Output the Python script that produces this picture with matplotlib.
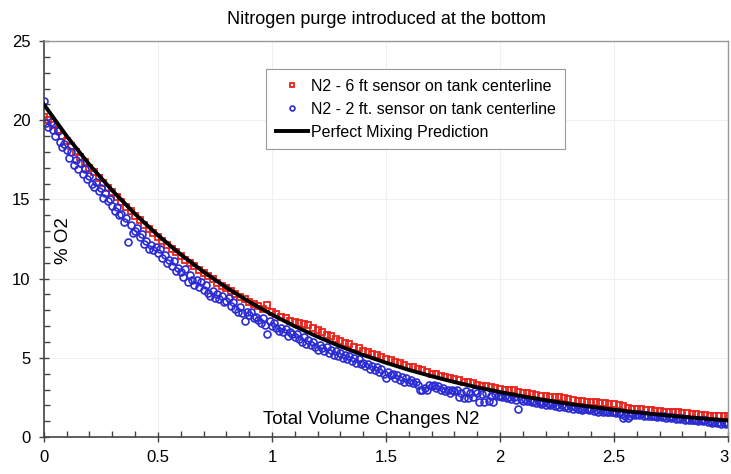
import numpy as np
import matplotlib
matplotlib.use("Agg")
import matplotlib.pyplot as plt
from matplotlib.ticker import MultipleLocator

plt.rcParams['font.family'] = ['Liberation Sans', 'DejaVu Sans']

# logger sample grids (volume changes)
x_6ft = np.round(np.arange(0, 3.0001, 0.02), 2)
x_2ft = np.round(np.arange(0, 3.0001, 0.01), 2)

x_ticks = [0, 0.5, 1, 1.5, 2, 2.5, 3]
x_tick_labels = ['0', '0.5', '1', '1.5', '2', '2.5', '3']

# N2 - 6 ft sensor, % O2
o2_6ft = [
    20.2, 20.0, 19.7, 19.4, 19.0, 18.7, 18.35, 18.0, 17.7, 17.35,
    17.0, 16.7, 16.35, 16.05, 15.75, 15.45, 15.15, 14.85, 14.55, 14.25,
    13.95, 13.7, 13.4, 13.15, 12.9, 12.65, 12.4, 12.15, 11.9, 11.65,
    11.45, 11.2, 11.0, 10.8, 10.55, 10.35, 10.15, 9.95, 9.75, 9.55,
    9.4, 9.2, 9.05, 8.85, 8.7, 8.55, 8.4, 8.25, 8.1, 8.35,
    7.9, 7.75, 7.6, 7.5, 7.35, 7.25, 7.2, 7.15, 7.05, 6.9,
    6.75, 6.6, 6.45, 6.35, 6.2, 6.05, 5.95, 5.85, 5.7, 5.6,
    5.45, 5.35, 5.25, 5.15, 5.05, 4.95, 4.85, 4.75, 4.65, 4.55,
    4.45, 4.4, 4.3, 4.2, 4.1, 4.0, 3.95, 3.85, 3.8, 3.75,
    3.65, 3.6, 3.5, 3.45, 3.4, 3.3, 3.25, 3.2, 3.15, 3.1,
    3.05, 3.0, 2.95, 2.95, 2.85, 2.8, 2.75, 2.7, 2.65, 2.6,
    2.6, 2.55, 2.5, 2.5, 2.45, 2.4, 2.35, 2.3, 2.25, 2.2,
    2.2, 2.2, 2.15, 2.15, 2.1, 2.1, 2.05, 1.95, 1.85, 1.8,
    1.75, 1.75, 1.7, 1.7, 1.65, 1.65, 1.6, 1.6, 1.55, 1.55,
    1.5, 1.5, 1.45, 1.45, 1.4, 1.4, 1.35, 1.35, 1.3, 1.3,
    1.3,
]

# N2 - 2 ft sensor (one row per 0.1 volume change)
o2_2ft = [
    21.2, 19.8, 19.6, 19.9, 19.4, 19.0, 19.3, 18.6, 18.3, 18.5,
    18.1, 17.6, 18.0, 17.2, 17.5, 16.9, 17.3, 16.6, 16.9, 16.3,
    16.5, 16.0, 15.8, 16.1, 15.5, 15.7, 15.1, 15.4, 14.9, 15.0,
    14.6, 14.3, 14.5, 14.0, 14.1, 13.6, 13.8, 12.3, 13.4, 12.9,
    13.0, 13.2, 12.6, 12.8, 12.2, 12.4, 11.9, 12.1, 11.8, 12.0,
    11.6, 11.9, 11.3, 11.5, 11.0, 11.2, 10.8, 11.1, 10.5, 10.7,
    10.4, 10.1, 10.6, 9.8, 10.2, 9.9, 9.6, 9.9, 9.5, 9.8,
    9.3, 9.6, 9.1, 8.9, 9.2, 8.8, 9.0, 8.7, 8.9, 8.5,
    8.6, 8.8, 8.3, 8.5, 8.1, 7.9, 8.2, 7.8, 7.3, 7.9,
    7.7, 7.9, 7.5, 7.6, 7.4, 7.2, 7.5, 7.1, 6.5, 7.3,
    7.0, 7.2, 6.9, 6.7, 6.9, 6.6, 6.8, 6.4, 6.6, 6.5,
    6.3, 6.5, 6.2, 6.0, 6.3, 5.9, 6.1, 5.8, 6.0, 5.7,
    5.5, 5.8, 5.6, 5.4, 5.7, 5.3, 5.5, 5.2, 5.4, 5.1,
    5.3, 5.0, 5.2, 4.9, 5.1, 4.8, 5.0, 4.7, 4.9, 4.6,
    4.7, 4.5, 4.6, 4.3, 4.5, 4.2, 4.4, 4.1, 4.3, 4.0,
    3.7, 4.1, 3.9, 4.0, 3.7, 3.9, 3.6, 3.8, 3.5, 3.7,
    3.5, 3.6, 3.4, 3.5, 3.3, 3.0, 3.0, 3.1, 3.0, 3.3,
    3.2, 3.3, 3.1, 3.2, 3.0, 3.1, 2.9, 3.0, 2.8, 3.0,
    2.9, 3.0, 2.5, 2.8, 2.45, 2.9, 2.45, 2.8, 2.5, 2.9,
    2.8, 2.2, 2.7, 2.2, 2.8, 2.25, 2.6, 2.2, 2.7, 2.6,
    2.6, 2.5, 2.6, 2.45, 2.5, 2.4, 2.5, 2.35, 1.8, 2.4,
    2.3, 2.4, 2.25, 2.3, 2.2, 2.25, 2.15, 2.2, 2.1, 2.15,
    2.05, 2.15, 2.0, 2.1, 1.95, 2.0, 1.9, 2.0, 1.9, 1.95,
    1.85, 1.95, 1.8, 1.9, 1.75, 1.85, 1.7, 1.8, 1.75, 1.7,
    1.75, 1.65, 1.7, 1.6, 1.7, 1.6, 1.65, 1.55, 1.6, 1.55,
    1.6, 1.5, 1.55, 1.45, 1.2, 1.35, 1.2, 1.35, 1.45, 1.4,
    1.45, 1.4, 1.45, 1.35, 1.4, 1.3, 1.35, 1.3, 1.35, 1.25,
    1.3, 1.25, 1.3, 1.2, 1.25, 1.2, 1.25, 1.15, 1.2, 1.15,
    1.2, 1.1, 1.15, 1.05, 1.1, 1.05, 1.1, 1.0, 1.05, 1.0,
    1.05, 0.95, 1.0, 0.9, 0.95, 0.9, 0.95, 0.85, 0.9, 0.85,
    0.9,
]

# perfect mixing prediction, read every 0.1
x_pred = np.round(np.arange(0, 3.0001, 0.1), 1)
o2_pred = [
    21.0, 19.0, 17.19, 15.56, 14.08, 12.74, 11.53, 10.43, 9.44, 8.54,
    7.73, 6.99, 6.33, 5.72, 5.18, 4.69, 4.24, 3.84, 3.47, 3.14,
    2.84, 2.57, 2.33, 2.10, 1.91, 1.72, 1.56, 1.41, 1.28, 1.16,
    1.05,
]

fig = plt.figure(figsize=(7.31, 4.74), dpi=100)
ax = fig.add_axes([0.060, 0.078, 0.936, 0.8355])

ax.plot(x_6ft, o2_6ft, ls='none', marker='s', ms=5, mfc='none',
        mec='#e8221a', mew=1.3, label='N2 - 6 ft sensor on tank centerline')
ax.plot(x_2ft, o2_2ft, ls='none', marker='o', ms=5, mfc='none',
        mec='#2b2bd4', mew=1.2, label='N2 - 2 ft. sensor on tank centerline')
ax.plot(x_pred, o2_pred, color='black', lw=2.8, zorder=3,
        label='Perfect Mixing Prediction')

ax.set_xlim(0, 3)
ax.set_ylim(0, 25)
ax.set_xticks(x_ticks)
tick_texts = ax.set_xticklabels(x_tick_labels)
# the "3" sits on the figure edge, pull it inside
tick_texts[-1].set_horizontalalignment('right')
ax.xaxis.set_minor_locator(MultipleLocator(0.1))
ax.yaxis.set_major_locator(MultipleLocator(5))
ax.yaxis.set_minor_locator(MultipleLocator(1))
ax.tick_params(which='major', direction='inout', length=7, width=1,
               color='#444444', labelsize=12, pad=6)
ax.tick_params(which='minor', direction='in', length=4, width=1,
               color='#444444')

ax.grid(True, which='major', color='#f0f0f0', lw=0.8)
ax.set_axisbelow(True)

for s in ['left', 'bottom']:
    ax.spines[s].set_color('#444444')
    ax.spines[s].set_linewidth(1.2)
for s in ['top', 'right']:
    ax.spines[s].set_color('#999999')
    ax.spines[s].set_linewidth(1.0)

ax.set_title('Nitrogen purge introduced at the bottom', fontsize=13, pad=12)

# axis titles sit inside the plot area
ax.text(0.028, 0.495, '% O2', transform=ax.transAxes, rotation=90,
        ha='center', va='center', fontsize=13.5)
ax.text(0.478, 0.043, 'Total Volume Changes N2', transform=ax.transAxes,
        ha='center', va='center', fontsize=13.5)

leg = ax.legend(loc='upper left', bbox_to_anchor=(0.325, 0.929),
                borderaxespad=0, fontsize=11.5,
                fancybox=False, framealpha=1, edgecolor='#999999',
                handlelength=2.0, handletextpad=0.2, borderpad=0.6,
                labelspacing=0.5, markerscale=0.7)
leg.get_frame().set_linewidth(0.8)

fig.savefig('out.png', dpi=100)
